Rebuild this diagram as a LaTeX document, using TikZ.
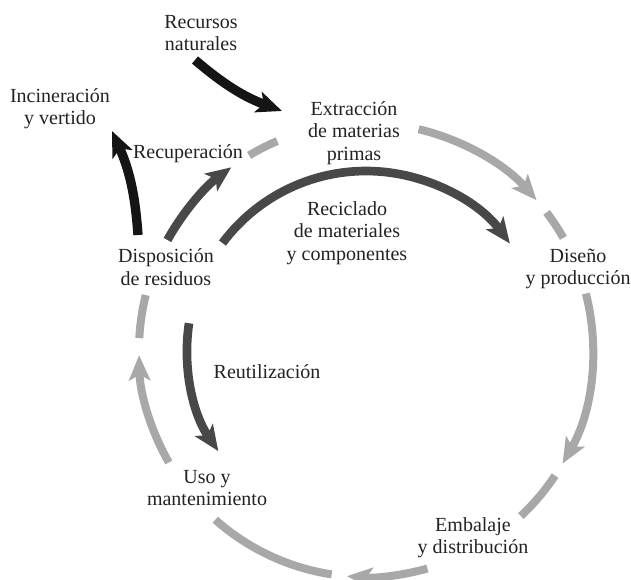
\documentclass[tikz,border=0pt]{standalone}
\usepackage{fontspec}
\setmainfont{Liberation Serif}
\usetikzlibrary{arrows.meta,calc}
\definecolor{cycgray}{HTML}{A8A8A8}
\definecolor{midgray}{HTML}{484848}
\definecolor{nearblack}{HTML}{151515}
\definecolor{txt}{HTML}{222222}
\begin{document}
\begin{tikzpicture}[x=0.75pt,y=0.75pt,
  lbl/.style={align=center,font=\fontsize{15}{16.8}\selectfont,inner sep=0pt,text=txt},
  cyc/.style={line width=6pt,draw=cycgray},
  recyc/.style={line width=6.5pt,draw=midgray},
  outside/.style={line width=7pt,draw=nearblack},
  tipped/.style={-{Stealth[length=19pt,width=16pt,inset=4.5pt]}}]
\useasboundingbox (0,0) rectangle (631,579);
\coordinate (C) at (366,229);
\def\Rout{170.25pt}
\def\Rin{134.25pt}

% labels
\node[lbl] (recursos) at (201,546) {Recursos\\naturales};
\node[lbl] (incin) at (60,470) {Incineración\\y vertido};
\node[lbl] (recup) at (188,425) {Recuperación};
\node[lbl] (extra) at (354,446) {Extracción\\de materias\\primas};
\node[lbl] (recic) at (347,346) {Reciclado\\de materiales\\y componentes};
\node[lbl] (diseno) at (578,310) {Diseño\\y producción};
\node[lbl] (dispo) at (166,312) {Disposición\\de residuos};
\node[lbl] (reuti) at (267,207) {Reutilización};
\node[lbl] (uso) at (207,91) {Uso y\\mantenimiento};
\node[lbl] (embal) at (473,41) {Embalaje\\y distribución};

% outer cycle (light gray)
\draw[cyc] ($(C)+(121:\Rout)$) arc[start angle=121,end angle=113,radius=\Rout];
\draw[cyc,tipped] ($(C)+(76.6:\Rout)$) arc[start angle=76.6,end angle=41.3,radius=\Rout];
\draw[cyc] ($(C)+(37.3:\Rout)$) arc[start angle=37.3,end angle=29.6,radius=\Rout];
\draw[cyc,tipped] ($(C)+(14.4:\Rout)$) arc[start angle=14.4,end angle=-30,radius=\Rout];
\draw[cyc] ($(C)+(-33.6:\Rout)$) arc[start angle=-33.6,end angle=-47,radius=\Rout];
\draw[cyc,tipped] ($(C)+(-74.3:\Rout)$) arc[start angle=-74.3,end angle=-94.8,radius=\Rout];
\draw[cyc] ($(C)+(-98.7:\Rout)$) arc[start angle=-98.7,end angle=-131.6,radius=\Rout];
\draw[cyc,tipped] ($(C)+(-150.3:\Rout)$) arc[start angle=-150.3,end angle=-178.7,radius=\Rout];
\draw[cyc] ($(C)+(177:\Rout)$) arc[start angle=177,end angle=166,radius=\Rout];

% recovery loops (dark gray)
\draw[recyc,tipped] ($(C)+(151:\Rout)$) arc[start angle=151,end angle=126.4,radius=\Rout];
\draw[recyc,tipped] ($(C)+(143.3:\Rin)$) arc[start angle=143.3,end angle=36.5,radius=\Rin];
\draw[recyc,tipped] ($(C)+(171.4:\Rin)$) arc[start angle=171.4,end angle=214.4,radius=\Rin];

% inflow / outflow (black)
\coordinate (recT) at (195,519);
\coordinate (recH) at (282,468);
\draw[outside,tipped] (recT) to[bend right=10] (recH);
\coordinate (incT) at (138,344);
\coordinate (incH) at (112,448);
\draw[outside,tipped] (incT) to[bend right=10] (incH);
\end{tikzpicture}
\end{document}
